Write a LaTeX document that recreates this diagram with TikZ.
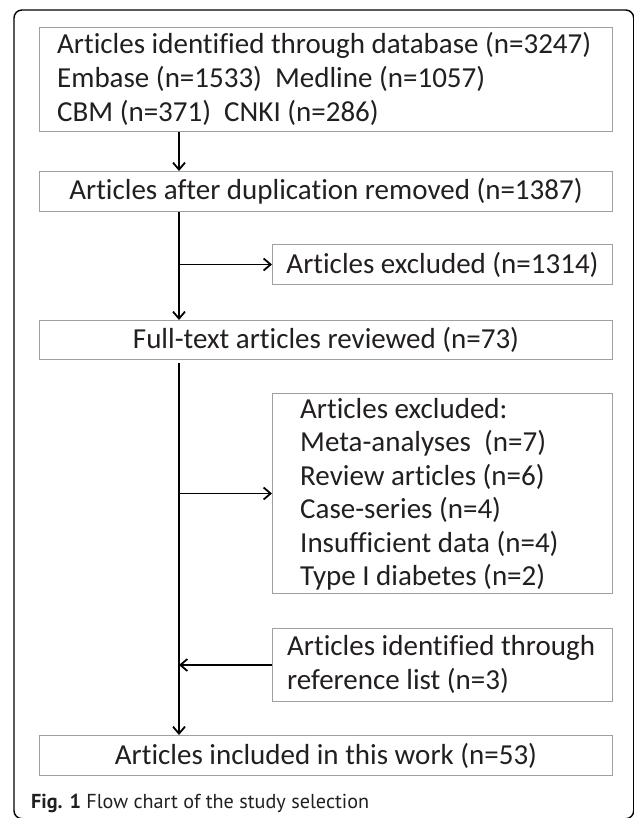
\documentclass[tikz,border=0pt]{standalone}
\usepackage{fontspec}
\setmainfont{Carlito}[Ligatures=NoCommon]
\newfontfamily\capfont{PT Sans}
\usetikzlibrary{arrows.meta}
\definecolor{boxgray}{HTML}{A0A0A0}
\definecolor{inkc}{HTML}{231F20}
\begin{document}
\begin{tikzpicture}[x=1pt,y=-1pt,
  box/.style={draw=boxgray, line width=1pt, inner sep=0pt, anchor=north west, text=inkc,
    font=\fontsize{29}{34}\selectfont},
  txt/.style={inner sep=0pt, anchor=west, align=left, text=inkc, font=\fontsize{29}{34}\selectfont},
  wide/.style={minimum width=573pt},
  side/.style={minimum width=340pt},
  arr/.style={draw=black, line width=1.8pt, -{Straight Barb[length=7pt,width=12pt]}}]
\useasboundingbox (0,0) rectangle (633,818);
\fill[white] (0,0) rectangle (633,818);
\draw[line width=1.4pt, rounded corners=8pt] (14,10) rectangle (633.7,818.7);

\node[box, wide, minimum height=104pt] (b1) at (39,27) {};
\node[txt] (b1t) at (57,79)
  {Articles identified through database (n=3247)\\Embase (n=1533)\ \ Medline (n=1057)\\CBM (n=371)\ \ CNKI (n=286)};
\node[box, wide, minimum height=40pt] (b2) at (39,171) {Articles after duplication removed (n=1387)};
\node[box, side, minimum height=40pt] (ex1) at (272,244) {Articles excluded (n=1314)};
\node[box, wide, minimum height=39pt] (b3) at (39,320) {Full-text articles reviewed (n=73)};
\node[box, side, minimum height=200pt] (b4) at (272,393) {};
\node[txt, font=\fontsize{29}{33.5}\selectfont] (b4t) at (300,494.5)
  {Articles excluded:\\Meta-analyses\ \ (n=7)\\Review articles (n=6)\\Case-series (n=4)\\Insufficient data (n=4)\\Type I diabetes (n=2)};
\node[box, side, minimum height=73pt] (b5) at (272,628) {};
\node[txt] (b5t) at (287,664.5)
  {Articles identified through\\reference list (n=3)};
\node[box, wide, minimum height=40pt] (b6) at (39,735) {Articles included in this work (n=53)};

\node[anchor=base west, inner sep=0pt, text=inkc, font=\capfont\fontsize{20.2}{24}\selectfont] (cap) at (31,808)
  {\textbf{Fig. 1} Flow chart of the study selection};

\coordinate (sp) at (179,0);
\coordinate (s3) at (179,363);
\draw[arr] (b1.south -| sp) -- (b2.north -| sp);
\draw[arr] (b2.south -| sp) -- (b3.north -| sp);
\draw[arr] (ex1.west -| sp) -- (ex1.west);
\draw[arr] (s3) -- (b6.north -| sp);
\draw[arr] (b4.west -| sp) -- (b4.west);
\draw[arr] (b5.west) -- (b5.west -| sp);
\end{tikzpicture}
\end{document}
